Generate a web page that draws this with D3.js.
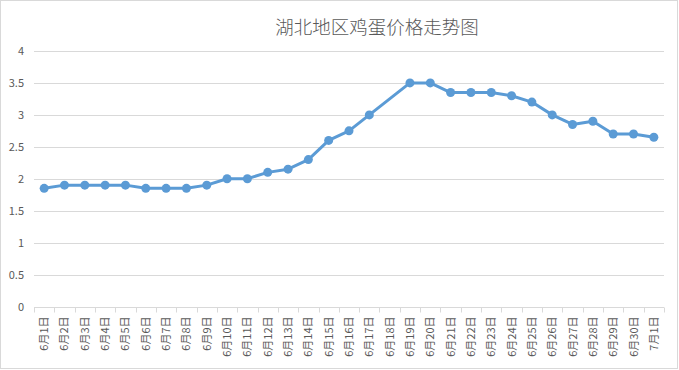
<!DOCTYPE html>
<html><head><meta charset="utf-8">
<script src="https://cdn.jsdelivr.net/npm/d3@7"></script>
<style>body{margin:0;background:#fff;}svg{display:block;}</style>
</head><body>
<svg id="c" width="679" height="370"></svg>
<script>
const title = "湖北地区鸡蛋价格走势图";
const categories = ["6月1日","6月2日","6月3日","6月4日","6月5日","6月6日","6月7日","6月8日","6月9日","6月10日","6月11日","6月12日","6月13日","6月14日","6月15日","6月16日","6月17日","6月18日","6月19日","6月20日","6月21日","6月22日","6月23日","6月24日","6月25日","6月26日","6月27日","6月28日","6月29日","6月30日","7月1日"];
const prices = [1.85,1.9,1.9,1.9,1.9,1.85,1.85,1.85,1.9,2.0,2.0,2.1,2.15,2.3,2.6,2.75,3.0,null,3.5,3.5,3.35,3.35,3.35,3.3,3.2,3.0,2.85,2.9,2.7,2.7,2.65];
const yTicks = [0,0.5,1,1.5,2,2.5,3,3.5,4];

const svg = d3.select("#c");
const W = 679, H = 370;
const font = "'Noto Sans CJK SC','Noto Sans',sans-serif";
svg.append("rect").attr("x",0.5).attr("y",0.5).attr("width",W-2).attr("height",H-2)
  .attr("fill","#fff").attr("stroke","#d9d9d9");

const x = d3.scaleBand().domain(categories).range([34,664]);
const y = d3.scaleLinear().domain([0,4]).range([306.5,51]);

// gridlines
svg.append("g").selectAll("line").data(yTicks.filter(d=>d>0)).join("line")
  .attr("x1",34).attr("x2",664)
  .attr("y1",d=>Math.round(y(d))+0.5).attr("y2",d=>Math.round(y(d))+0.5)
  .attr("stroke","#d9d9d9").attr("stroke-width",1);

// y axis labels
const ya = svg.append("g").attr("transform","translate(34,0)")
  .call(d3.axisLeft(y).tickValues(yTicks).tickSize(0).tickPadding(10).tickFormat(d3.format("")));
ya.select(".domain").remove();
ya.selectAll("text").attr("fill","#595959").style("font-family",font).style("font-size","11px");

// x axis
const yb = Math.round(y(0))+0.5;
svg.append("line").attr("x1",34).attr("x2",664).attr("y1",yb).attr("y2",yb).attr("stroke","#d9d9d9");
const bounds = categories.map(c=>x(c)).concat([x.range()[1]]);
svg.append("g").selectAll("line").data(bounds).join("line")
  .attr("x1",d=>Math.round(d)+0.5).attr("x2",d=>Math.round(d)+0.5)
  .attr("y1",yb).attr("y2",yb+5).attr("stroke","#d9d9d9");
svg.append("g").selectAll("text").data(categories).join("text")
  .attr("transform",d=>`translate(${x(d)+x.bandwidth()/2+4},${yb+9}) rotate(-90)`)
  .attr("text-anchor","end")
  .attr("fill","#595959").style("font-family",font).style("font-size","11px")
  .text(d=>d);

// line
const pts = categories.map((c,i)=>({c,v:prices[i]})).filter(d=>d.v!=null);
const line = d3.line().x(d=>x(d.c)+x.bandwidth()/2).y(d=>y(d.v));
svg.append("path").datum(pts).attr("d",line)
  .attr("fill","none").attr("stroke","#5B9BD5").attr("stroke-width",3).attr("stroke-linejoin","round").attr("stroke-linecap","round");
svg.append("g").selectAll("circle").data(pts).join("circle")
  .attr("cx",d=>x(d.c)+x.bandwidth()/2).attr("cy",d=>y(d.v)).attr("r",4.5)
  .attr("fill","#5B9BD5");

// title
svg.append("text").attr("x",377).attr("y",34).attr("text-anchor","middle")
  .attr("fill","#595959").style("font-family",font).style("font-size","18.5px").style("font-weight","300")
  .text(title);
</script>
</body></html>
